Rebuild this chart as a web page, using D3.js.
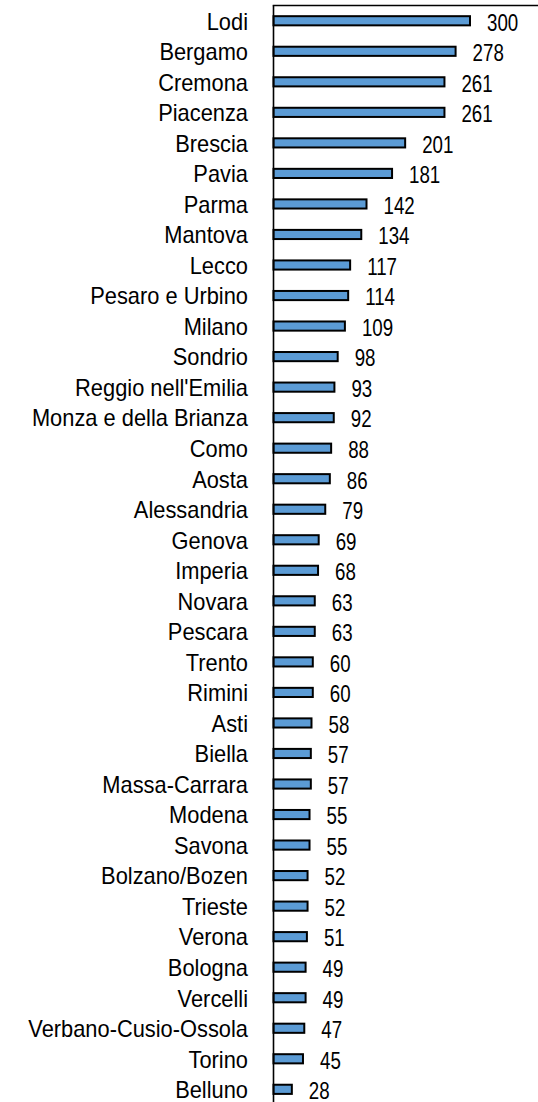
<!DOCTYPE html>
<html>
<head>
<meta charset="utf-8">
<script src="https://cdn.jsdelivr.net/npm/d3@7"></script>
<style>
body { margin: 0; background: #fff; }
text { font-family: "Liberation Sans", Arial, sans-serif; fill: #000; }
</style>
</head>
<body>
<div id="chart"></div>
<script>
var width = 538,
    height = 1102;

var provinces = ["Lodi", "Bergamo", "Cremona", "Piacenza", "Brescia", "Pavia", "Parma", "Mantova",
    "Lecco", "Pesaro e Urbino", "Milano", "Sondrio", "Reggio nell'Emilia", "Monza e della Brianza",
    "Como", "Aosta", "Alessandria", "Genova", "Imperia", "Novara", "Pescara", "Trento", "Rimini",
    "Asti", "Biella", "Massa-Carrara", "Modena", "Savona", "Bolzano/Bozen", "Trieste", "Verona",
    "Bologna", "Vercelli", "Verbano-Cusio-Ossola", "Torino", "Belluno"];

var values = [300, 278, 261, 261, 201, 181, 142, 134, 117, 114, 109, 98, 93, 92, 88, 86, 79, 69,
    68, 63, 63, 60, 60, 58, 57, 57, 55, 55, 52, 52, 51, 49, 49, 47, 45, 28];

var data = provinces.map(function(p, i) { return {name: p, value: values[i]}; });

var svg = d3.select("#chart")
    .append("svg")
    .attr("width", width)
    .attr("height", height);

var axisX = 273.5,
    topY = 5.5;

var xScale = d3.scaleLinear()
    .domain([0, d3.max(values)])
    .range([axisX, 470]);

var yScale = d3.scaleBand()
    .domain(provinces)
    .range([topY, topY + provinces.length * 30.53])
    .paddingInner(0.7)
    .paddingOuter(0.35);

// bars
svg.selectAll("rect.bar")
    .data(data)
    .enter()
    .append("rect")
    .attr("class", "bar")
    .attr("x", xScale(0))
    .attr("y", function(d) { return yScale(d.name); })
    .attr("width", function(d) { return xScale(d.value) - xScale(0); })
    .attr("height", yScale.bandwidth())
    .attr("fill", "#5b9bd5")
    .attr("stroke", "#000")
    .attr("stroke-width", 2);

// axis lines
svg.append("line")
    .attr("x1", axisX).attr("x2", axisX)
    .attr("y1", topY).attr("y2", height)
    .attr("stroke", "#000").attr("stroke-width", 1.6);

svg.append("line")
    .attr("x1", axisX - 0.8).attr("x2", width)
    .attr("y1", topY).attr("y2", topY)
    .attr("stroke", "#000").attr("stroke-width", 1.6);

// category labels
svg.selectAll("text.cat")
    .data(data)
    .enter()
    .append("text")
    .attr("class", "cat")
    .attr("text-anchor", "end")
    .attr("font-size", "23px")
    .attr("transform", function(d) {
        var cy = yScale(d.name) + yScale.bandwidth() / 2;
        return "translate(248," + (cy + 8.8) + ") scale(0.95,1)";
    })
    .text(function(d) { return d.name; });

// value labels
svg.selectAll("text.val")
    .data(data)
    .enter()
    .append("text")
    .attr("class", "val")
    .attr("font-size", "24px")
    .attr("transform", function(d) {
        var cy = yScale(d.name) + yScale.bandwidth() / 2;
        return "translate(" + (xScale(d.value) + 17) + "," + (cy + 9.8) + ") scale(0.78,1)";
    })
    .text(function(d) { return d.value; });
</script>
</body>
</html>
